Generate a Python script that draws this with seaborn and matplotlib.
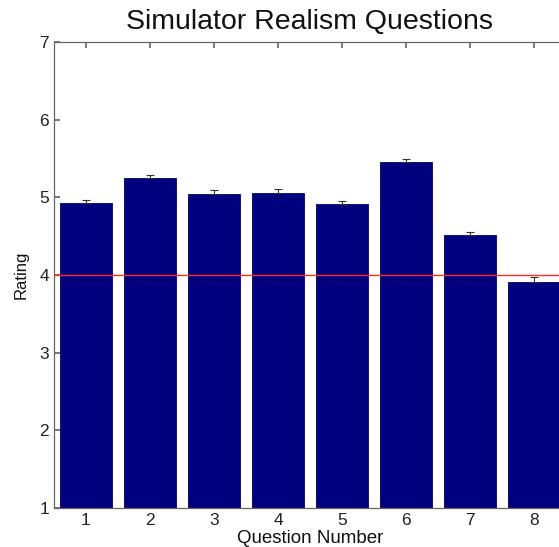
import matplotlib
matplotlib.use("Agg")
import matplotlib.pyplot as plt
import seaborn as sns
import numpy as np
import pandas as pd

questions = ["1", "2", "3", "4", "5", "6", "7", "8"]
ratings = [4.93, 5.25, 5.04, 5.06, 4.91, 5.46, 4.52, 3.91]
errors = [0.03, 0.04, 0.05, 0.05, 0.04, 0.03, 0.04, 0.06]
threshold = 4.0

sns.set_theme(style="white")
plt.rcParams['font.family'] = ['Liberation Sans', 'DejaVu Sans']

df = pd.DataFrame({"Question": questions, "Rating": ratings})

fig = plt.figure(figsize=(5.59, 5.47), dpi=100)
ax = fig.add_axes([54/559, 1-508/547, 512/559, 466/547])

sns.barplot(data=df, x="Question", y="Rating", color="#00007f", saturation=1,
            width=0.8, errorbar=None, ax=ax, edgecolor="#00006a", linewidth=0.6)
# bars start at axis bottom (1)
for p, v in zip(ax.patches, ratings):
    p.set_y(1)
    p.set_height(v - 1)

xpos = np.arange(len(questions))
ax.errorbar(xpos, ratings, yerr=[np.zeros(len(errors)), errors], fmt="none",
            ecolor="#333333", elinewidth=0.8, capsize=3, capthick=0.8, zorder=5)

ax.axhline(threshold, color="#ff2a2a", linewidth=1.0, zorder=6)

ax.set_xlim(-0.5, 7.5)
ax.set_ylim(1, 7)
ax.set_yticks(range(1, 8))
ax.set_xticks(xpos)
ax.set_xticklabels(questions)

for s in ax.spines.values():
    s.set_color("#666666")
    s.set_linewidth(0.9)
ax.tick_params(axis="both", direction="in", length=4, color="#666666",
               labelsize=12.5, top=True, right=True, bottom=True, left=True)
ax.tick_params(axis="both", labelcolor="#222222")

ax.set_xlabel("Question Number", fontsize=13.5, color="#111111", labelpad=1.5)
ax.set_ylabel("Rating", fontsize=12, color="#111111", labelpad=8)
ax.set_title("Simulator Realism Questions", fontsize=20.5, color="#111111", pad=9)

fig.savefig("out.png", dpi=100)
